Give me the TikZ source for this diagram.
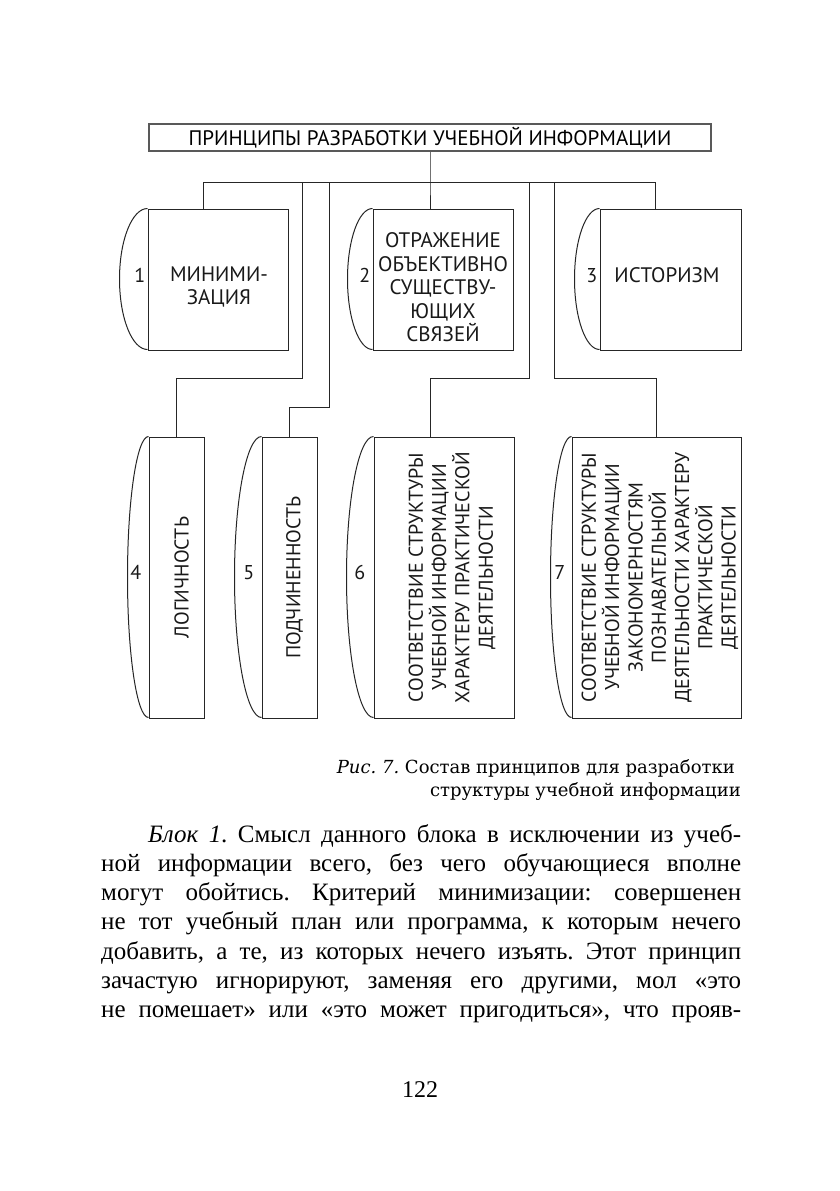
\documentclass[tikz,border=0pt]{standalone}
\usepackage{fontspec}
\setmainfont{Liberation Serif}
\newfontfamily\dgfont{PT Sans}
\newfontfamily\capfont{DejaVu Serif}
\frenchspacing
\begin{document}
\begin{tikzpicture}[x=1pt,y=-1pt,
  ln/.style={draw=black!85, line width=1pt},
  frame/.style={ln, inner sep=0pt},
  lbl/.style={inner sep=0pt, align=center, font=\dgfont\fontsize{21}{23.5}\selectfont, text=black!90},
  rlbl/.style={inner sep=0pt, align=center, rotate=90, font=\dgfont\fontsize{20}{23.3}\selectfont, text=black!90},
  num/.style={inner sep=0pt, anchor=east, font=\dgfont\fontsize{20}{24}\selectfont, text=black!90},
  body/.style={inner sep=0pt, anchor=base west, font=\fontsize{25}{29}\selectfont},
  capt/.style={inner sep=0pt, anchor=base east, font=\capfont\fontsize{18}{23}\selectfont}
]
\path[use as bounding box] (0,0) rectangle (839,1191);
\fill[white] (0,0) rectangle (839,1191);

% title
\node[draw=black!65, line width=2.4pt, minimum width=562pt, minimum height=27pt, inner sep=0pt,
      font=\dgfont\fontsize{21}{24}\selectfont] (T) at (430,137.5) {ПРИНЦИПЫ РАЗРАБОТКИ УЧЕБНОЙ ИНФОРМАЦИИ};

% boxes
\node[frame, minimum width=140pt, minimum height=141pt] (b1) at (218,279.5) {};
\node[frame, minimum width=140pt, minimum height=141pt] (b2) at (443,279.5) {};
\node[frame, minimum width=141pt, minimum height=141pt] (b3) at (670.5,279.5) {};
\node[frame, minimum width=55pt, minimum height=281pt] (b4) at (176.5,577.5) {};
\node[frame, minimum width=55pt, minimum height=281pt] (b5) at (289.5,577.5) {};
\node[frame, minimum width=140pt, minimum height=281pt] (b6) at (444,577.5) {};
\node[frame, minimum width=169pt, minimum height=281pt] (b7) at (656.5,577.5) {};

% left caps
\draw[ln] (b1.north west) arc[start angle=90, end angle=270, x radius=28pt, y radius=70.5pt];
\draw[ln] (b2.north west) arc[start angle=90, end angle=270, x radius=25pt, y radius=70.5pt];
\draw[ln] (b3.north west) arc[start angle=90, end angle=270, x radius=25pt, y radius=70.5pt];
\draw[ln] (b4.north west) arc[start angle=90, end angle=270, x radius=21pt, y radius=140.5pt];
\draw[ln] (b5.north west) arc[start angle=90, end angle=270, x radius=27pt, y radius=140.5pt];
\draw[ln] (b6.north west) arc[start angle=90, end angle=270, x radius=27pt, y radius=140.5pt];
\draw[ln] (b7.north west) arc[start angle=90, end angle=270, x radius=21pt, y radius=140.5pt];

% numbers
\node[num] (n1) at ([xshift=-2pt,yshift=4pt]b1.west) {1};
\node[num] (n2) at ([xshift=-2pt,yshift=4pt]b2.west) {2};
\node[num] (n3) at ([xshift=-2pt,yshift=4pt]b3.west) {3};
\node[num] (n4) at ([xshift=-7pt,yshift=5pt]b4.west) {4};
\node[num] (n5) at ([xshift=-7pt,yshift=5pt]b5.west) {5};
\node[num] (n6) at ([xshift=-8pt,yshift=5pt]b6.west) {6};
\node[num] (n7) at ([xshift=-6pt,yshift=5pt]b7.west) {7};

% labels
\node[lbl] (t1) at (219,287) {МИНИМИ-\\ЗАЦИЯ};
\node[lbl] (t2) at (443,287.5) {ОТРАЖЕНИЕ\\ОБЪЕКТИВНО\\СУЩЕСТВУ-\\ЮЩИХ\\СВЯЗЕЙ};
\node[lbl] (t3) at (667,275) {ИСТОРИЗМ};
\node[rlbl] (t4) at (181.5,577.5) {ЛОГИЧНОСТЬ};
\node[rlbl] (t5) at (294.5,577.5) {ПОДЧИНЕННОСТЬ};
\node[rlbl] (t6) at (452,577.5) {СООТВЕТСТВИЕ СТРУКТУРЫ\\УЧЕБНОЙ ИНФОРМАЦИИ\\ХАРАКТЕРУ ПРАКТИЧЕСКОЙ\\ДЕЯТЕЛЬНОСТИ};
\node[rlbl] (t7) at (660,577.5) {СООТВЕТСТВИЕ СТРУКТУРЫ\\УЧЕБНОЙ ИНФОРМАЦИИ\\ЗАКОНОМЕРНОСТЯМ\\ПОЗНАВАТЕЛЬНОЙ\\ДЕЯТЕЛЬНОСТИ ХАРАКТЕРУ\\ПРАКТИЧЕСКОЙ\\ДЕЯТЕЛЬНОСТИ};

% connectors
\coordinate (J) at (430,182);
\coordinate (bL) at (203,182);
\coordinate (bR) at (655,182);
\coordinate (v1) at (302,182);
\coordinate (v2) at (329,182);
\coordinate (v3) at (529,182);
\coordinate (v4) at (554,182);
\draw[ln] (T.south) -- (J) -- (b2.north -| J);
\draw[ln] (b1.north -| bL) -- (bL) -- (bR) -- (b3.north -| bR);
\draw[ln] (v1) -- ++(0,196) -| (b4.north);
\draw[ln] (v2) -- ++(0,225) -| (b5.north);
\draw[ln] (v3) -- ++(0,196) -| (b6.north -| J);
\draw[ln] (v4) -- ++(0,196) -| (b7.north);

% caption
\node[capt] (c1) at (735,773) {\itshape Рис. 7.\upshape\ Состав принципов для разработки};
\node[capt] (c2) at (741,796) {структуры учебной информации};

% body text
\node[body] (p1) at (148,842) {\makebox[593pt][s]{\textit{Блок 1}. Смысл данного блока в исключении из учеб-}};
\node[body] (p2) at (101,871.3) {\makebox[640pt][s]{ной информации всего, без чего обучающиеся вполне}};
\node[body] (p3) at (101,900.6) {\makebox[640pt][s]{могут обойтись. Критерий минимизации: совершенен}};
\node[body] (p4) at (101,929.9) {\makebox[640pt][s]{не тот учебный план или программа, к которым нечего}};
\node[body] (p5) at (101,959.2) {\makebox[640pt][s]{добавить, а те, из которых нечего изъять. Этот принцип}};
\node[body] (p6) at (101,988.5) {\makebox[640pt][s]{зачастую игнорируют, заменяя его другими, мол «это}};
\node[body] (p7) at (101,1017.8) {\makebox[640pt][s]{не помешает» или «это может пригодиться», что прояв-}};

\node[inner sep=0pt, anchor=base, font=\fontsize{24}{28}\selectfont] (pg) at (420,1097) {122};
\end{tikzpicture}
\end{document}
